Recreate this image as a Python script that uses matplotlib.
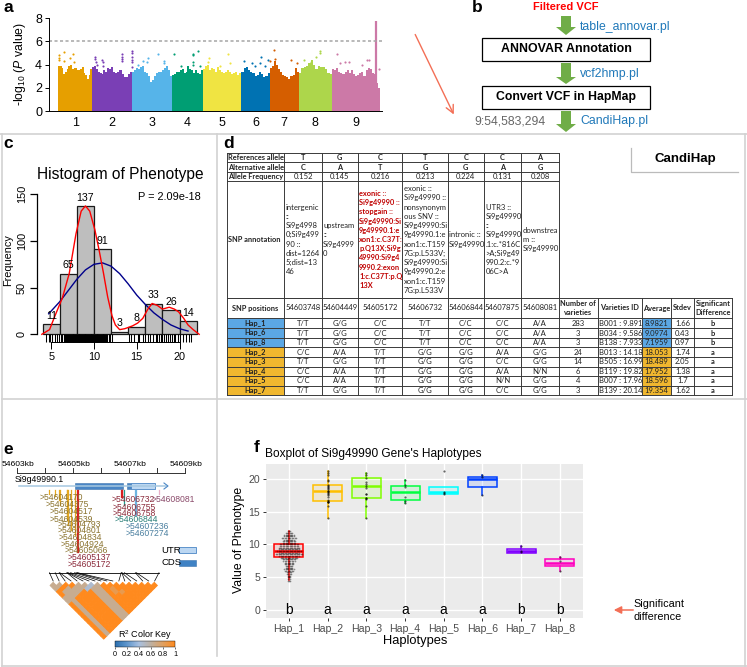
import numpy as np
import matplotlib
matplotlib.use('Agg')
import matplotlib.pyplot as plt
from matplotlib.patches import Rectangle, Polygon
from matplotlib.collections import PolyCollection
from matplotlib.colors import LinearSegmentedColormap, Normalize
from matplotlib.cm import ScalarMappable

plt.rcParams['font.family'] = 'Liberation Sans'
plt.rcParams['mathtext.fontset'] = 'custom'
plt.rcParams['mathtext.rm'] = 'Liberation Sans'
plt.rcParams['mathtext.it'] = 'Liberation Sans:italic'

W, H = 747, 667

# --------------------
# a: Manhattan plot
# --------------------
ChromLength = [42, 49, 50, 38, 48, 35, 36, 41, 60]
ChromColor = ['#E69F00', '#7A3FB5', '#56B4E9', '#009E73', '#F0E442', '#0072B2', '#D55E00', '#ADD64B', '#CC79A7']
Skyline = [
    [3.9, 3.85, 3.75, 3.2, 3.35, 3.6, 3.9, 4.0, 3.6, 3.7, 3.7, 3.5, 3.5, 3.6, 3.8, 3.3, 3.1, 2.8, 3.1, 3.6],
    [3.8, 3.9, 3.6, 3.4, 3.3, 3.2, 3.5, 3.4, 3.7, 3.6, 3.8, 3.4, 3.3, 3.4, 3.5, 3.5, 3.2, 2.9, 2.9, 3.2, 3.4],
    [3.4, 3.5, 3.7, 3.6, 3.8, 3.9, 3.4, 3.3, 3.0, 2.5, 2.7, 3.0, 3.3, 3.4, 3.4, 3.5, 3.7, 3.9, 3.5, 3.0],
    [3.1, 3.2, 3.4, 3.4, 3.5, 3.6, 3.3, 3.4, 3.9, 3.6, 3.5, 3.3, 3.5, 3.3, 3.2, 3.5],
    [3.6, 3.9, 4.0, 3.5, 3.7, 3.6, 3.4, 3.8, 3.5, 3.4, 3.3, 3.4, 3.5, 3.4, 3.2, 3.3, 3.4, 3.1, 3.3],
    [3.4, 3.7, 3.8, 3.5, 3.4, 3.3, 3.0, 3.1, 3.4, 3.2, 2.9, 3.0, 3.3],
    [3.7, 3.9, 4.3, 4.0, 3.6, 3.4, 3.1, 3.0, 2.9, 2.8, 3.0, 3.1, 3.7, 3.4],
    [3.3, 3.7, 3.8, 3.9, 4.1, 4.4, 4.0, 3.6, 3.9, 3.8, 3.8, 3.6, 3.3, 3.2],
    [3.6, 3.5, 3.7, 3.4, 3.3, 3.2, 3.4, 3.5, 3.3, 3.5, 3.2, 3.0, 3.1, 3.3, 3.4, 3.0, 3.5, 3.7, 3.6, 3.3, 3.2, 2.4, 2.0],
]
PeakPos = [1.2, 1.2, 1.2, 6.6, 6.6, 14, 17.8, 19.4,
           46, 46, 47, 48, 53.7, 54.9, 54.9, 78.5, 78.5, 78.5, 78.5, 90.9, 90.9, 90.9, 90.9, 90.9, 90.9,
           110.7, 123, 104.5, 131.3, 131.3, 99.1, 109.4,
           143.3, 166.4, 167, 173.5, 152, 166.4, 166.4, 175.5,
           186.7, 209.8, 185.9, 212.7, 200.3,
           230, 239.5, 251, 260, 243.7, 249.9, 262.3, 256,
           267.6, 288, 295.3, 268.5,
           304.4, 313, 319.2, 324.2, 324.2,
           344.8, 349, 355, 360, 375.8, 382, 385, 397]
PeakVal = [4.6, 4.8, 4.4, 5.1, 4.3, 4.6, 4.9, 4.2,
           4.7, 4.5, 4.2, 4.0, 4.4, 4.2, 3.9, 4.95, 4.7, 4.5, 4.3, 5.2, 5.0, 4.7, 4.4, 4.2, 3.8,
           4.6, 4.9, 4.3, 4.3, 4.1, 4.0, 4.2,
           4.9, 4.95, 4.8, 5.2, 3.85, 4.2, 4.0, 3.9,
           4.55, 4.95, 4.2, 4.1, 3.9,
           4.35, 4.1, 4.7, 4.4, 3.9, 4.1, 4.3, 3.9,
           5.25, 4.4, 4.1, 4.5,
           4.4, 4.2, 4.7, 5.2, 5.0,
           4.9, 4.1, 4.2, 4.2, 4.0, 4.4, 4.4, 3.6]
TopSnpPos = 393.2
TopSnpVal = 7.8
Threshold = 6.05

# --------------------
# c: histogram
# --------------------
HistEdges = [4, 6, 8, 10, 12, 14, 16, 18, 20, 22]
HistCount = [11, 65, 137, 91, 3, 8, 33, 26, 14]
DensX = [3.9, 4.8, 5.4, 6.3, 7.1, 7.9, 8.5, 9.0, 9.5, 10.1, 10.6, 11.1, 11.6, 12.1, 12.5, 13.0, 13.6, 14.5, 15.1, 15.7, 16.3, 16.8, 17.4, 18.0, 18.8, 19.4, 19.9, 20.5, 21.0, 21.6, 22.3]
DensY = [0, 5, 19, 39, 65, 108, 132, 137.5, 132, 112, 90, 66, 40, 20, 10, 5, 6, 9, 12, 17, 27, 33, 31, 27, 29, 27, 24, 17, 10, 5, 0]
NormX = [4.7, 5.5, 6, 7, 8, 9, 10, 11, 12, 13, 14, 15, 16, 17, 18, 19, 20, 21]
NormY = [22, 30, 35, 47, 59, 69, 75, 76.5, 73, 65, 54, 42, 32, 23, 16, 10, 6, 3.5]
RugVals = [4.4, 4.7, 4.9, 5.1, 5.4, 5.7, 5.9, 6.1, 6.3, 6.45, 6.6, 6.75, 6.9, 7.0, 7.1, 7.2, 7.3, 7.4, 7.5, 7.6, 7.7, 7.8, 7.9,
           8.0, 8.1, 8.2, 8.3, 8.4, 8.5, 8.6, 8.7, 8.8, 8.9, 9.0, 9.1, 9.2, 9.3, 9.4, 9.5, 9.6, 9.7, 9.8, 9.9, 10.0, 10.1,
           10.2, 10.3, 10.4, 10.5, 10.6, 10.7, 10.8, 10.9, 11.0, 11.1, 11.2, 11.3, 11.4, 11.55, 11.75, 11.9, 12.05,
           14.1, 14.3, 14.7, 15.1, 15.3, 15.7, 16.0, 16.3, 16.6, 16.9, 17.2, 17.4, 17.6, 17.8, 18.0, 18.2, 18.4, 18.6, 18.7, 18.85,
           19.1, 19.3, 19.5, 19.8, 20.1, 20.4, 20.8, 21.1, 21.4]

# --------------------
# d: table
# --------------------
RefAllele = ['T', 'G', 'C', 'T', 'C', 'C', 'A']
AltAllele = ['C', 'A', 'T', 'G', 'G', 'A', 'G']
AlleleFreq = ['0.152', '0.145', '0.216', '0.213', '0.224', '0.131', '0.208']
SnpAnnotation = [
    'intergenic\n::\nSi9g4998\n0;Si9g499\n90 ::\ndist=1264\n5;dist=13\n46',
    'upstream\n::\nSi9g4999\n0',
    'exonic ::\nSi9g49990 ::\nstopgain ::\nSi9g49990:Si\n9g49990.1:e\nxon1:c.C37T:\np.Q13X;Si9g\n49990:Si9g4\n9990.2:exon\n1:c.C37T:p.Q\n13X',
    'exonic ::\nSi9g49990 ::\nnonsynonym\nous SNV ::\nSi9g49990:Si\n9g49990.1:e\nxon1:c.T159\n7G:p.L533V;\nSi9g49990:Si\n9g49990.2:e\nxon1:c.T159\n7G:p.L533V',
    'intronic ::\nSi9g49990',
    'UTR3 ::\nSi9g49990\n::\nSi9g49990\n.1:c.*816C\n>A;Si9g49\n990.2:c.*9\n06C>A',
    'downstrea\nm ::\nSi9g49990',
]
SnpPositions = ['54603748', '54604449', '54605172', '54606732', '54606844', '54607875', '54608081']
TableHaps = ['Hap_1', 'Hap_6', 'Hap_8', 'Hap_2', 'Hap_3', 'Hap_4', 'Hap_5', 'Hap_7']
Genotypes = [
    ['T/T', 'G/G', 'C/C', 'T/T', 'C/C', 'C/C', 'A/A'],
    ['T/T', 'G/G', 'C/C', 'T/T', 'C/C', 'C/C', 'A/A'],
    ['T/T', 'G/G', 'C/C', 'T/T', 'C/C', 'C/C', 'A/A'],
    ['C/C', 'A/A', 'T/T', 'G/G', 'G/G', 'A/A', 'G/G'],
    ['T/T', 'G/G', 'T/T', 'G/G', 'G/G', 'C/C', 'G/G'],
    ['C/C', 'A/A', 'T/T', 'G/G', 'G/G', 'A/A', 'N/N'],
    ['C/C', 'A/A', 'T/T', 'G/G', 'G/G', 'N/N', 'G/G'],
    ['T/T', 'G/G', 'T/T', 'G/G', 'G/G', 'C/C', 'G/G'],
]
NumVarieties = ['283', '3', '3', '24', '14', '6', '4', '3']
VarietyIds = ['B001 : 9.8918', 'B034 : 9.5864', 'B138 : 7.9339', 'B013 : 14.180', 'B505 : 16.997', 'B119 : 19.823', 'B007 : 17.963', 'B139 : 20.145']
Averages = ['8.9821', '9.0974', '7.1959', '18.053', '18.489', '17.952', '18.596', '19.354']
Stdevs = ['1.66', '0.43', '0.97', '1.74', '2.05', '1.38', '1.7', '1.62']
SigLetters = ['b', 'b', 'b', 'a', 'a', 'a', 'a', 'a']

# --------------------
# e: gene model and LD
# --------------------
SnpKb = [54604170, 54604375, 54604517, 54604539, 54604793, 54604801, 54604834, 54604924, 54605066,
         54605137, 54605172, 54606732, 54606755, 54606758, 54606844, 54607236, 54607274, 54608081]
LabelLeft = [40, 45.7, 49.3, 50, 57.3, 57.3, 58.3, 61, 65, 67.3, 68, 111.7, 112.3, 112.3, 115, 126, 126, 151.7]
LabelY = [497.7, 504.3, 511.7, 519, 524.3, 530.7, 537.3, 544.3, 550.7, 558, 564.7, 499, 507.3, 513, 519, 526.7, 534, 499]
LabelColor = ['#8B7430'] * 9 + ['#8B2A3A'] * 5 + ['#2A7F78'] + ['#4A7F9F'] * 2 + ['#8A4A6A']
TickColor = ['#E5A820'] * 9 + ['#D62020'] * 5 + ['#1FA090'] + ['#6EB5E0'] * 2 + ['#E8B0C8']
TickEnd = [494, 496, 500, 505, 515, 520, 525, 530, 535, 552, 552, 497, 497, 497, 505, 515, 515, 494]
KbTicks = [54603, 54604, 54605, 54606, 54607, 54608, 54609]
KbLabels = ['54603kb', '54605kb', '54607kb', '54609kb']
# upper triangle of the r2 matrix, o = 1.0, t = 0.85, g = 0.65, b = 0.45
LdRows = ['ggoogg' + 'ooooooooooo', 'gogg' + 'gggggggggggg', 'oggg' + 'ooooooooooo', 'ogg' + 'ooooooooooo',
          'gg' + 'ooooooooooo', 'gb' + 'oooooooooo', 'b' + 'gggggggggg', 'gggggggggg', 'ooooooooo',
          'ottooooo', 'ootoooo', 'oooooo', 'ooooo', 'oooo', 'ooo', 'oo', 'o']
LdValue = {'o': 1.0, 't': 0.85, 'g': 0.65, 'b': 0.45}

# --------------------
# f: boxplot
# --------------------
HapNames = ['Hap_1', 'Hap_2', 'Hap_3', 'Hap_4', 'Hap_5', 'Hap_6', 'Hap_7', 'Hap_8']
HapColor = ['#FF0000', '#FFBF00', '#80FF00', '#00FF40', '#00FFFF', '#0040FF', '#8000FF', '#FF00BF']
BoxQ1 = [8.1, 16.55, 17.1, 16.75, 17.6, 18.75, 8.76, 6.8]
BoxMed = [9.05, 18.2, 18.95, 18.0, 17.9, 20.0, 9.05, 7.25]
BoxQ3 = [10.1, 19.0, 20.05, 18.9, 18.8, 20.3, 9.27, 7.75]
WhiskLow = [4.6, 14.1, 14.0, 16.3, 17.6, 17.45, 8.76, 6.0]
WhiskHigh = [12.0, 21.1, 20.9, 19.8, 18.8, 20.5, 9.7, 8.05]
BoxLetters = ['b', 'a', 'a', 'a', 'a', 'a', 'b', 'b']
Hap1Levels = [4.5, 4.75, 5.0, 5.25, 5.5, 5.75, 6.0, 6.25, 6.5, 6.75, 7.0, 7.25, 7.5, 7.75, 8.0, 8.25, 8.5, 8.75, 9.0, 9.25, 9.5, 9.75, 10.0, 10.25, 10.5, 10.75, 11.0, 11.25, 11.5, 11.75, 12.0]
Hap1Counts = [3, 2, 3, 3, 4, 4, 7, 8, 6, 6, 7, 7, 9, 10, 13, 15, 20, 15, 18, 15, 16, 14, 14, 10, 10, 8, 11, 8, 8, 6, 3]
OtherPoints = [
    [21.1, 20.8, 20.5, 19.8, 19.6, 19.0, 18.9, 18.8, 18.6, 18.4, 18.2, 18.1, 18.0, 17.8, 17.7, 17.5, 17.2, 16.7, 16.6, 16.5, 16.5, 16.4, 15.9, 14.1],
    [20.9, 20.6, 20.1, 19.5, 19.2, 18.9, 18.6, 17.7, 17.6, 17.1, 17.0, 16.9, 15.8, 14.0],
    [19.8, 19.0, 18.7, 17.2, 16.6, 16.3],
    [21.1, 18.0, 17.8, 17.7],
    [20.5, 20.2, 17.5],
    [9.7, 9.0, 8.8],
    [8.05, 7.5, 6.0],
]


def pxAxes(Fig, X0, Y0, X1, Y1):
    return Fig.add_axes([X0 / W, 1 - Y1 / H, (X1 - X0) / W, (Y1 - Y0) / H])


def blockArrow(Ax, Yt, Yh, Yb, Xc=566):
    Pts = [(Xc - 5, Yt), (Xc + 5, Yt), (Xc + 5, Yh), (Xc + 10, Yh), (Xc, Yb), (Xc - 10, Yh), (Xc - 5, Yh)]
    Ax.add_patch(Polygon(Pts, closed=True, fc='#70AD47', ec='none'))


Fig = plt.figure(figsize=(W / 100, H / 100), dpi=100)
Page = Fig.add_axes([0, 0, 1, 1])
Page.set_xlim(0, W)
Page.set_ylim(H, 0)
Page.axis('off')

# Panel frames
Frame = '#D2D2D2'
Page.plot([0, W], [134, 134], color=Frame, lw=1.2)
Page.plot([2, W], [398.5, 398.5], color=Frame, lw=1.2)
Page.plot([2, W], [665.7, 665.7], color=Frame, lw=1.2)
Page.plot([2, 2], [134, 665.7], color=Frame, lw=1.2)
Page.plot([217, 217], [134, 656], color=Frame, lw=1.2)
Page.plot([745, 745], [134, 665.7], color=Frame, lw=1.2)

for Letter, Lx, Ly in [('a', 8, 8), ('b', 477, 7), ('c', 8, 143), ('d', 229, 143), ('e', 8, 450), ('f', 257, 447)]:
    Page.text(Lx, Ly, Letter, fontsize=12.5, fontweight='bold', ha='center', va='center')

# a ------------------------------------------------
AxA = pxAxes(Fig, 49, 18.3, 382, 111)
AxA.patch.set_alpha(0)
Offset = 0
Centers = []
for Length, Color, Heights in zip(ChromLength, ChromColor, Skyline):
    Edges = np.linspace(Offset, Offset + Length, len(Heights) + 1)
    AxA.stairs(Heights, Edges, baseline=0, fill=True, color=Color, lw=0)
    Mask = (np.array(PeakPos) >= Offset) & (np.array(PeakPos) < Offset + Length)
    AxA.scatter(np.array(PeakPos)[Mask], np.array(PeakVal)[Mask], s=2.4, color=Color, lw=0)
    Centers.append(Offset + Length / 2)
    Offset += Length
AxA.vlines(TopSnpPos, 0, TopSnpVal, color=ChromColor[-1], lw=1.6)
AxA.axhline(Threshold, color='#A5A5A5', lw=1.1, dashes=(2, 1.6))
AxA.set_xlim(-(58.3 - 49) / 0.807, (382 - 58.3) / 0.807)
AxA.set_ylim(0, 8)
AxA.set_yticks([0, 2, 4, 6, 8])
AxA.set_xticks(Centers)
AxA.set_xticklabels([str(i + 1) for i in range(9)])
AxA.tick_params(axis='x', length=0, labelsize=9, pad=4)
AxA.tick_params(axis='y', length=3, width=0.7, labelsize=9, pad=2)
AxA.spines[['top', 'right']].set_visible(False)
AxA.spines[['left', 'bottom']].set_linewidth(0.7)
Page.text(20, 64, r'-log$_{10}$ ($\mathit{P}$ value)', rotation=90, fontsize=8.8, ha='center', va='center')

# b ------------------------------------------------
Page.text(566, 7.5, 'Filtered VCF', color='#FF0000', fontweight='bold', fontsize=8, ha='center', va='center')
blockArrow(Page, 16, 27, 35)
blockArrow(Page, 63, 77, 84)
blockArrow(Page, 111, 124, 132)
for Y0, Y1, Label, Size in [(38, 61, 'ANNOVAR Annotation', 8.9), (85.7, 109, 'Convert VCF in HapMap', 8.8)]:
    Page.add_patch(Rectangle((481.7, Y0), 168.3, Y1 - Y0, fc='white', ec='black', lw=0.9))
    Page.text(566, (Y0 + Y1) / 2, Label, fontweight='bold', fontsize=Size, ha='center', va='center')
for Label, Ly in [('table_annovar.pl', 27), ('vcf2hmp.pl', 73.5), ('CandiHap.pl', 121)]:
    Page.text(580, Ly, Label, color='#1F78B9', fontsize=8.8, ha='left', va='center')
Page.text(474, 121, '9:54,583,294', color='#666666', fontsize=8.8, ha='left', va='center')
Page.annotate('', xy=(455, 117), xytext=(414, 32), arrowprops=dict(arrowstyle='->', color='#F36F56', lw=1, mutation_scale=14))

# c ------------------------------------------------
AxC = pxAxes(Fig, 36.7, 194.3, 205, 334.3)
AxC.patch.set_alpha(0)
Bars = AxC.bar(HistEdges[:-1], HistCount, width=2, align='edge', fc='#BEBEBE', ec='#1A1A1A', lw=0.9, clip_on=False)
AxC.bar_label(Bars, labels=[str(c) for c in HistCount], fontsize=7.6, padding=2.5)
AxC.plot(NormX, NormY, color='#00008B', lw=1, clip_on=False)
AxC.plot(DensX, DensY, color='#FF0000', lw=1, clip_on=False)
AxC.vlines(RugVals, -8, 0, color='black', lw=0.75, clip_on=False)
AxC.set_xlim(4 - 6 / 8.55, 4 + (205 - 42.7) / 8.55)
AxC.set_ylim(0, 150)
AxC.set_xticks([5, 10, 15, 20])
AxC.set_yticks([0, 50, 100, 150])
AxC.tick_params(axis='x', length=5, width=0.7, labelsize=7.8, pad=2)
AxC.tick_params(axis='y', length=5, width=0.9, labelsize=7.8, pad=2)
for Tick in AxC.get_yticklabels():
    Tick.set_rotation(90)
    Tick.set_va('center')
AxC.spines[['top', 'right']].set_visible(False)
AxC.spines['left'].set_linewidth(0.9)
AxC.spines['bottom'].set_position(('outward', 5.4))
AxC.spines['bottom'].set_bounds(5, 20)
AxC.spines['bottom'].set_linewidth(0.7)
Page.text(8, 260, 'Frequency', rotation=90, fontsize=7.8, ha='center', va='center')
Page.text(120, 174, 'Histogram of Phenotype', fontsize=11.2, ha='center', va='center')
Page.text(138, 197, 'P = 2.09e-18', fontsize=7.9, ha='left', va='center')

# d ------------------------------------------------
ColX = [226.7, 284.3, 321.7, 357.7, 402.3, 447.7, 484, 521.3, 558.7]
ExtraX = [597.7, 641.7, 670.7, 694.3, 731.7]
RowY = [153.3, 162.3, 172, 181.3, 297.7, 318.3, 328.3, 337.7, 347.3, 357, 366.7, 376, 385.7, 395.3]
TableFont = {'family': 'Lato', 'fontsize': 5.5, 'color': '#222222'}
BoldFont = dict(TableFont, fontweight='bold', fontsize=5.3)
LineCol = '#3A3A3A'

for Row in range(8):
    Y0, Y1 = RowY[5 + Row], RowY[6 + Row]
    Fill = '#5BA7E4' if Row < 3 else '#F0B72F'
    Page.add_patch(Rectangle((ColX[0], Y0), ColX[1] - ColX[0], Y1 - Y0, fc=Fill, ec='none', zorder=1))
    Page.add_patch(Rectangle((ExtraX[1], Y0), ExtraX[2] - ExtraX[1], Y1 - Y0, fc=Fill, ec='none', zorder=4))

RowLabels = ['References allele', 'Alternative allele', 'Allele Frequency']
for Row, Values in enumerate([RefAllele, AltAllele, AlleleFreq]):
    Yc = (RowY[Row] + RowY[Row + 1]) / 2
    Page.text(ColX[0] + 1, Yc, RowLabels[Row], ha='left', va='center', **BoldFont)
    for Col, Val in enumerate(Values):
        Font = TableFont if Row == 2 else BoldFont
        Page.text((ColX[Col + 1] + ColX[Col + 2]) / 2, Yc, Val, ha='center', va='center', **Font)

Yc = (RowY[3] + RowY[4]) / 2
Page.text(ColX[0] + 1, Yc, 'SNP annotation', ha='left', va='center', **BoldFont)
for Col, Val in enumerate(SnpAnnotation):
    if Col == 2:
        Font = dict(BoldFont, color='#C00000')
    else:
        Font = TableFont
    Page.text(ColX[Col + 1] + 1.5, Yc, Val, ha='left', va='center', linespacing=1.37, **Font)

Yc = (RowY[4] + RowY[5]) / 2
Page.text((ColX[0] + ColX[1]) / 2, Yc, 'SNP positions', ha='center', va='center', **BoldFont)
for Col, Val in enumerate(SnpPositions):
    Page.text((ColX[Col + 1] + ColX[Col + 2]) / 2, Yc, Val, ha='center', va='center', **TableFont)
LastX = [ColX[-1]] + ExtraX
for Col, Val in enumerate(['Number of\nvarieties', 'Varieties ID', 'Average', 'Stdev', 'Significant\nDifference']):
    Page.text((LastX[Col] + LastX[Col + 1]) / 2, Yc, Val, ha='center', va='center', linespacing=1.35, **BoldFont)

for Row in range(8):
    Yc = (RowY[5 + Row] + RowY[6 + Row]) / 2
    Page.text((ColX[0] + ColX[1]) / 2, Yc, TableHaps[Row], ha='center', va='center', **BoldFont)
    for Col, Val in enumerate(Genotypes[Row]):
        Page.text((ColX[Col + 1] + ColX[Col + 2]) / 2, Yc, Val, ha='center', va='center', **TableFont)
    Page.text((LastX[0] + LastX[1]) / 2, Yc, NumVarieties[Row], ha='center', va='center', **TableFont)
    Page.text(LastX[1] + 1, Yc, VarietyIds[Row], ha='left', va='center', zorder=3, **TableFont)
    Page.text((LastX[2] + LastX[3]) / 2, Yc, Averages[Row], ha='center', va='center', zorder=5, **TableFont)
    Page.text((LastX[3] + LastX[4]) / 2, Yc, Stdevs[Row], ha='center', va='center', **TableFont)
    Page.text((LastX[4] + LastX[5]) / 2, Yc, SigLetters[Row], ha='center', va='center', **BoldFont)

for Y in RowY[:5]:
    Page.plot([ColX[0], ColX[-1]], [Y, Y], color=LineCol, lw=0.7, zorder=6)
for Y in RowY[4:]:
    Page.plot([ColX[0], ExtraX[-1]], [Y, Y], color=LineCol, lw=0.7, zorder=6)
for X in ColX:
    Page.plot([X, X], [RowY[0], RowY[-1]], color=LineCol, lw=0.7, zorder=6)
for X in ExtraX:
    Page.plot([X, X], [RowY[4], RowY[-1]], color=LineCol, lw=0.7, zorder=6)

Page.plot([631, 631, 738], [148, 172, 172], color='#BBBBBB', lw=0.9)
Page.text(685, 159, 'CandiHap', fontweight='bold', fontsize=9.5, ha='center', va='center')

# e ------------------------------------------------
def kbToPx(Pos):
    return 16.7 + (Pos - 54603000) / 1000 * 28


Page.plot([kbToPx(54603000), kbToPx(54609000)], [473.3, 473.3], color='#333333', lw=0.7)
for Kb in KbTicks:
    Tx = kbToPx(Kb * 1000)
    Page.plot([Tx, Tx], [468, 473.3], color='#333333', lw=0.7)
for Label in KbLabels:
    Page.text(kbToPx(int(Label[:-2]) * 1000) + 1, 464, Label, fontsize=6.1, ha='center', va='center')
Page.text(15, 480, 'Si9g49990.1', fontsize=6.3, ha='left', va='center')
Page.plot([19, 166], [486, 486], color='#A6C8E0', lw=1.1)
Page.plot([164, 168, 164], [483, 486, 489], color='#4A86C5', lw=0.8)
Page.add_patch(Rectangle((75.3, 482.7), 47.4, 6.6, fc='#4A86C5', ec='#3C74AE', lw=0.4))
Page.add_patch(Rectangle((126.7, 482.7), 4, 6.6, fc='#4A86C5', ec='#3C74AE', lw=0.4))
Page.add_patch(Rectangle((130.7, 482.7), 24.3, 6.6, fc='#BCD7F2', ec='#4A86C5', lw=0.6))

for Pos, Left, Ly, LabCol, TickCol, End in zip(SnpKb, LabelLeft, LabelY, LabelColor, TickColor, TickEnd):
    Page.plot([kbToPx(Pos), kbToPx(Pos)], [490, End], color=TickCol, lw=0.9)
    Page.text(Left, Ly, '>%d' % Pos, color=LabCol, fontsize=6.2, ha='left', va='center')

Page.text(161, 550.3, 'UTR', fontsize=6.8, ha='left', va='center')
Page.add_patch(Rectangle((178.7, 547.3), 17.3, 6, fc='#BCD7F2', ec='#4A86C5', lw=0.6))
Page.text(161, 562.7, 'CDS', fontsize=6.8, ha='left', va='center')
Page.add_patch(Rectangle((178.7, 560), 17.3, 6, fc='#3F82C4', ec='#3C74AE', lw=0.4))

NSnp = len(SnpKb)
TriLeft, TriTop, TriStep = 50, 582.3, 6.32
LdCmap = LinearSegmentedColormap.from_list('ld', ['#2C6FAF', '#5F96CC', '#A8C0E0', '#BFB0A0', '#E0A060', '#FF8A1E'])
Cells, CellVals = [], []
for I, Row in enumerate(LdRows):
    for K, Ch in enumerate(Row):
        J = I + 1 + K
        Cx = TriLeft + (I + J) / 2 * TriStep
        Cy = TriTop + (J - I) / 2 * TriStep
        Half = TriStep / 2
        Cells.append([(Cx - Half, Cy), (Cx, Cy - Half), (Cx + Half, Cy), (Cx, Cy + Half)])
        CellVals.append(LdValue[Ch])
Page.add_collection(PolyCollection(Cells, array=np.array(CellVals), cmap=LdCmap, norm=Normalize(0, 1), edgecolors='face', linewidths=0.6))

BracketY = 572.7
Page.plot([kbToPx(SnpKb[0]), kbToPx(SnpKb[-1])], [BracketY, BracketY], color='black', lw=0.6)
for I, Pos in enumerate(SnpKb):
    Page.plot([kbToPx(Pos), TriLeft + (I + 0.5) * TriStep * (17 / 18) + TriStep * 0.03], [BracketY, 581], color='black', lw=0.5)

Page.text(145, 635.5, r'R$^2$ Color Key', fontsize=6.5, ha='center', va='center')
Cax = pxAxes(Fig, 115, 640.7, 175, 647.3)
Cbar = Fig.colorbar(ScalarMappable(norm=Normalize(0, 1), cmap=LdCmap), cax=Cax, orientation='horizontal')
Cbar.set_ticks([0, 0.2, 0.4, 0.6, 0.8, 1], labels=['0', '0.2', '0.4', '0.6', '0.8', '1'])
Cbar.ax.tick_params(labelsize=5.2, length=1.5, width=0.4, pad=1)
Cbar.outline.set_linewidth(0.3)

# f ------------------------------------------------
AxF = pxAxes(Fig, 265.7, 464, 583, 618)
AxF.set_facecolor('#EBEBEB')
AxF.grid(True, color='white', lw=1)
AxF.set_axisbelow(True)
for Spine in AxF.spines.values():
    Spine.set_visible(False)

Stats = []
for i in range(8):
    Stats.append(dict(med=BoxMed[i], q1=BoxQ1[i], q3=BoxQ3[i], whislo=WhiskLow[i], whishi=WhiskHigh[i], fliers=[]))
Boxes = AxF.bxp(Stats, positions=range(1, 9), widths=0.75, patch_artist=True, showcaps=False, showfliers=False, manage_ticks=False)
for i in range(8):
    Boxes['boxes'][i].set(facecolor=matplotlib.colors.to_rgba(HapColor[i], 0.1), edgecolor=HapColor[i], linewidth=1.1)
    Boxes['medians'][i].set(color=HapColor[i], linewidth=1.8)
    for Whisker in Boxes['whiskers'][2 * i:2 * i + 2]:
        Whisker.set(color=HapColor[i], linewidth=1.1)

for Level, Count in zip(Hap1Levels, Hap1Counts):
    Xs = 1 + (np.arange(Count) - (Count - 1) / 2) * 0.036
    AxF.scatter(Xs, [Level] * Count, s=1.5, color='black', alpha=0.4, lw=0, zorder=5)
for i, Vals in enumerate(OtherPoints):
    AxF.scatter([i + 2] * len(Vals), Vals, s=2.5, color='black', alpha=0.6, lw=0, zorder=5)
for i, Letter in enumerate(BoxLetters):
    AxF.text(i + 1, 0, Letter, fontsize=10, ha='center', va='center')

AxF.set_xlim(0.398, 8.6)
AxF.set_ylim(-1.17, 22.23)
AxF.set_xticks(range(1, 9))
AxF.set_xticklabels(HapNames)
AxF.set_yticks([0, 5, 10, 15, 20])
AxF.tick_params(axis='both', length=2.5, width=0.7, color='#333333', labelcolor='#4D4D4D', labelsize=7.6, pad=1.5)
Page.text(415, 641, 'Haplotypes', fontsize=9.3, ha='center', va='center')
Page.text(239, 540, 'Value of Phenotype', fontsize=8.8, rotation=90, ha='center', va='center')
Page.text(265, 453.5, "Boxplot of Si9g49990 Gene's Haplotypes", fontsize=8.6, ha='left', va='center')

Page.annotate('', xy=(611, 610), xytext=(636, 610), arrowprops=dict(arrowstyle='-|>', color='#F36F56', lw=1.1, mutation_scale=11))
Page.text(633, 603.7, 'Significant', fontsize=7.8, ha='left', va='center')
Page.text(633, 616.7, 'difference', fontsize=7.8, ha='left', va='center')

Fig.savefig('out.png', dpi=100)
